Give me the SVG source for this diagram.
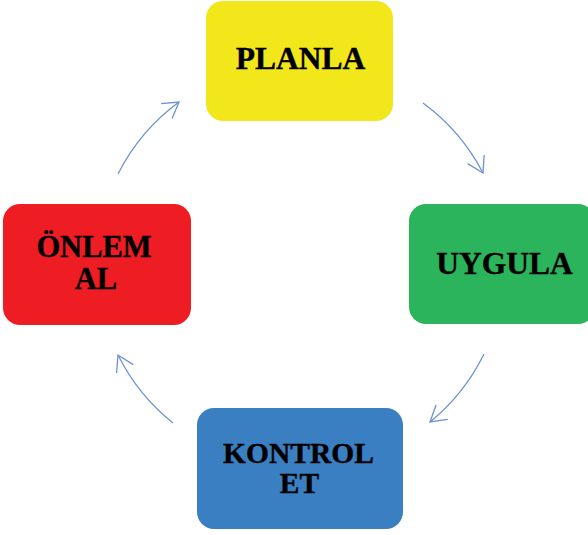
<svg xmlns="http://www.w3.org/2000/svg" width="588" height="535" viewBox="0 0 588 535">
<style>
.lbl{font-family:"Liberation Serif","Times New Roman",serif;font-weight:bold;fill:#000;stroke:#000;stroke-width:0.4;text-anchor:middle}
.arc{fill:none;stroke:#6A92D4;stroke-width:1.3}
</style>
<defs>
<marker id="ah" markerUnits="userSpaceOnUse" markerWidth="24" markerHeight="24" viewBox="-20 -12 24 24" refX="0" refY="0" orient="auto">
<path d="M-15.4,-9.3 L0,0 L-15.4,9.3" fill="none" stroke="#6A92D4" stroke-width="1.3"/>
</marker>
</defs>
<rect width="588" height="535" fill="#fff"/>
<g id="connectors">
<path class="arc" d="M118,174 A203,203 0 0 1 179,102" marker-end="url(#ah)"/>
<path class="arc" d="M423,103 A203,203 0 0 1 483,173" marker-end="url(#ah)"/>
<path class="arc" d="M484,354 A203,203 0 0 1 430,422" marker-end="url(#ah)"/>
<path class="arc" d="M173,423 A203,203 0 0 1 118,355" marker-end="url(#ah)"/>
</g>
<g id="planla">
<rect x="206" y="1" width="187" height="120" rx="17" fill="#F2E71B"/>
<text class="lbl" x="300.5" y="69" font-size="31.5">PLANLA</text>
</g>
<g id="uygula">
<rect x="409" y="204" width="186" height="120" rx="17" fill="#2BB45C"/>
<text class="lbl" x="504.5" y="274" font-size="31.5">UYGULA</text>
</g>
<g id="kontrol">
<rect x="197" y="408" width="206" height="121" rx="17" fill="#3A7FC1"/>
<text class="lbl" font-size="29.5"><tspan x="298.5" y="463">KONTROL</tspan><tspan x="299.5" y="492.5">ET</tspan></text>
</g>
<g id="onlem">
<rect x="3" y="204" width="188" height="121" rx="17" fill="#EE1D24"/>
<text class="lbl" font-size="30.5"><tspan x="94" y="257">ÖNLEM</tspan><tspan x="96" y="288.5">AL</tspan></text>
</g>
</svg>
